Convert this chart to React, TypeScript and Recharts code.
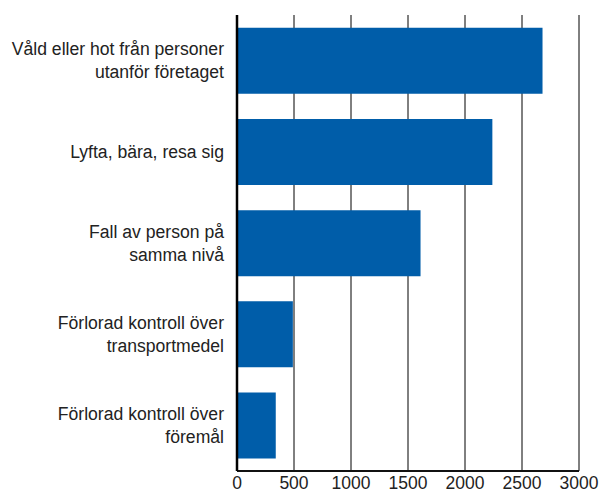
import { BarChart, Bar, XAxis, YAxis, CartesianGrid } from 'recharts'

const CATEGORIES = [
  'Våld eller hot från personer\nutanför företaget',
  'Lyfta, bära, resa sig',
  'Fall av person på\nsamma nivå',
  'Förlorad kontroll över\ntransportmedel',
  'Förlorad kontroll över\nföremål',
]
const VALUES = [2680, 2240, 1610, 490, 340]
const X_TICKS = [0, 500, 1000, 1500, 2000, 2500, 3000]

const data = CATEGORIES.map((name, i) => ({ name, value: VALUES[i] }))

const FONT = '"Liberation Sans", Arial, sans-serif'

function CategoryTick(props: any) {
  const { x, y, payload } = props
  const lines = String(payload.value).split('\n')
  const lh = 23
  const start = y - ((lines.length - 1) * lh) / 2
  return (
    <text x={x} y={start} textAnchor="end" fill="#222" fontSize={17.6} fontFamily={FONT}>
      {lines.map((l, i) => (
        <tspan key={i} x={x} y={start + i * lh} dy="0.36em">
          {l}
        </tspan>
      ))}
    </text>
  )
}

export default function App() {
  return (
    <div style={{ position: 'absolute', left: 0, top: 0, background: '#fff' }}>
      <BarChart
        width={603}
        height={495}
        data={data}
        layout="vertical"
        margin={{ top: 15, right: 24, left: 0, bottom: 0 }}
        barCategoryGap="14%"
      >
        <CartesianGrid horizontal={false} stroke="#000" strokeWidth={1} />
        <XAxis
          type="number"
          domain={[0, 3000]}
          ticks={X_TICKS}
          interval={0}
          height={24}
          tickLine={false}
          tickSize={0}
          tickMargin={6}
          axisLine={{ stroke: '#111', strokeWidth: 2 }}
          tick={{ fill: '#222', fontSize: 17.5, fontFamily: FONT }}
        />
        <YAxis
          type="category"
          dataKey="name"
          width={237}
          tickLine={false}
          tickSize={0}
          tickMargin={13}
          axisLine={{ stroke: '#000', strokeWidth: 2.5 }}
          tick={<CategoryTick />}
          interval={0}
        />
        <Bar dataKey="value" fill="#005da9" isAnimationActive={false} />
      </BarChart>
    </div>
  )
}
